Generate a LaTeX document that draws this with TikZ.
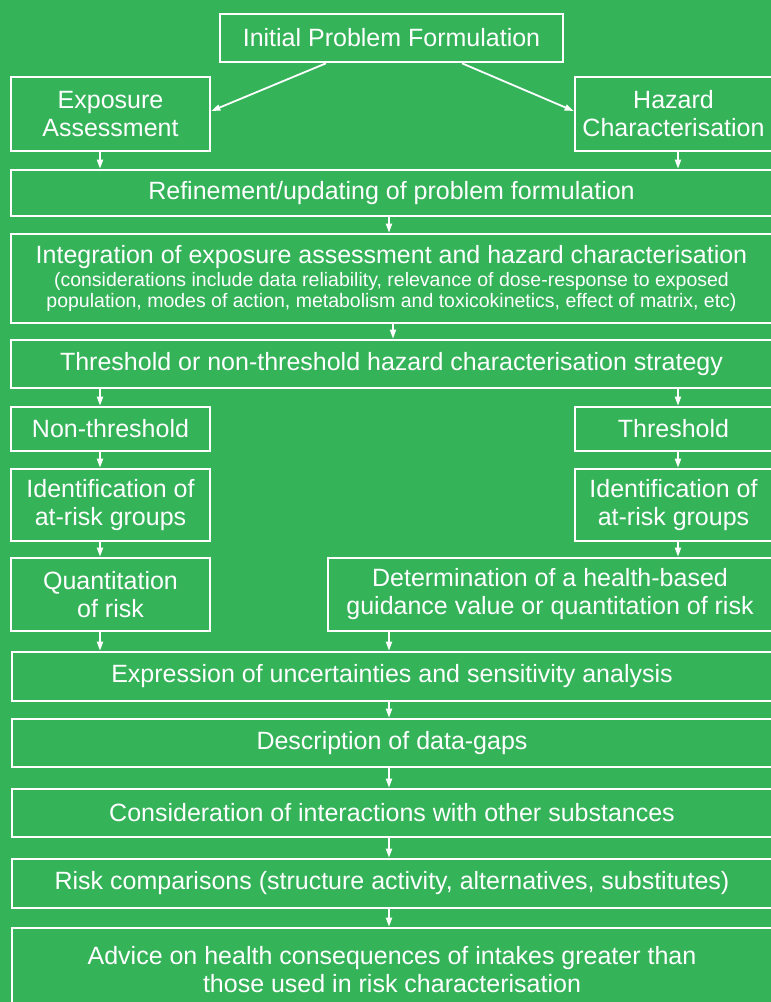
\documentclass[tikz,border=0pt]{standalone}
\usepackage{fontspec}
\setmainfont{Liberation Sans}
\usetikzlibrary{arrows.meta}
\definecolor{leaf}{RGB}{52,179,89}
\begin{document}
\begin{tikzpicture}[x=1pt,y=-1pt,
  box/.style={draw=white, line width=2.6pt, text=white, inner sep=0pt,
    align=center, font=\fontsize{25}{28}\selectfont},
  sub/.style={text=white, inner sep=0pt, anchor=base},
  flow/.style={draw=white, line width=1.8pt, -{Triangle[length=9pt,width=6pt]}}]
% background and frame
\fill[leaf] (0,0) rectangle (771,1002);
\useasboundingbox (0,0) rectangle (771,1002);
\clip (0,0) rectangle (771,1002);

% arrow columns
\coordinate (colL) at (100,0);
\coordinate (colR) at (678,0);
\coordinate (colM) at (389,0);
\coordinate (colN) at (393,0);

% boxes
\node[box, minimum width=343pt, minimum height=48pt] (init) at (391.5,38) {Initial Problem Formulation};
\node[box, minimum width=199pt, minimum height=74pt] (exp) at (110.5,114) {Exposure\\Assessment};
\node[box, minimum width=197pt, minimum height=74pt] (haz) at (673.5,114) {Hazard\\Characterisation};
\node[box, minimum width=761pt, minimum height=46pt] (ref) at (391.5,193) {Refinement/updating of problem formulation};
\node[box, minimum width=761pt, minimum height=89pt] (integ) at (391.5,278.5) {};
\node[sub, font=\fontsize{25}{28}\selectfont] (integA) at (391.5,263) {Integration of exposure assessment and hazard characterisation};
\node[sub, font=\fontsize{19.5}{22}\selectfont] (integB) at (391.5,286) {(considerations include data reliability, relevance of dose-response to exposed};
\node[sub, font=\fontsize{19.5}{22}\selectfont] (integC) at (391.5,307.5) {population, modes of action, metabolism and toxicokinetics, effect of matrix, etc)};
\node[box, minimum width=761pt, minimum height=48pt] (strat) at (391.5,364) {Threshold or non-threshold hazard characterisation strategy};
\node[box, minimum width=199pt, minimum height=44pt] (nonth) at (110.5,429) {Non-threshold};
\node[box, minimum width=197pt, minimum height=44pt] (thr) at (673.5,429) {Threshold};
\node[box, minimum width=199pt, minimum height=72pt] (idl) at (110.5,505) {Identification of\\at-risk groups};
\node[box, minimum width=197pt, minimum height=72pt] (idr) at (673.5,505) {Identification of\\at-risk groups};
\node[box, minimum width=199pt, minimum height=73pt] (quant) at (110.5,594.5) {Quantitation\\of risk};
\node[box, minimum width=444pt, minimum height=73pt] (det) at (550,594.5) {Determination of a health-based\\guidance value or quantitation of risk};
\node[box, minimum width=760pt, minimum height=49pt] (expr) at (392,676.5) {Expression of uncertainties and sensitivity analysis};
\node[box, minimum width=760pt, minimum height=48pt] (desc) at (392,743) {Description of data-gaps};
\node[box, minimum width=760pt, minimum height=48pt] (cons) at (392,813) {Consideration of interactions with other substances};
\node[box, minimum width=760pt, minimum height=49pt] (risk) at (392,883.5) {Risk comparisons (structure activity, alternatives, substitutes)};
\node[box, minimum width=760pt, minimum height=84pt] (adv) at (392,970) {Advice on health consequences of intakes greater than\\those used in risk characterisation};

% connectors
\draw[flow] (init.south -| 326,0) -- (exp.east |- 0,111);
\draw[flow] (init.south -| 462,0) -- (haz.west |- 0,111);
\draw[flow] (exp.south -| colL) -- (ref.north -| colL);
\draw[flow] (haz.south -| colR) -- (ref.north -| colR);
\draw[flow] (ref.south -| colM) -- (integ.north -| colM);
\draw[flow] (integ.south -| colN) -- (strat.north -| colN);
\draw[flow] (strat.south -| colL) -- (nonth.north -| colL);
\draw[flow] (strat.south -| colR) -- (thr.north -| colR);
\draw[flow] (nonth.south -| colL) -- (idl.north -| colL);
\draw[flow] (thr.south -| colR) -- (idr.north -| colR);
\draw[flow] (idl.south -| colL) -- (quant.north -| colL);
\draw[flow] (idr.south -| colR) -- (det.north -| colR);
\draw[flow] (quant.south -| colL) -- (expr.north -| colL);
\draw[flow] (det.south -| colM) -- (expr.north -| colM);
\draw[flow] (expr.south -| colM) -- (desc.north -| colM);
\draw[flow] (desc.south -| colM) -- (cons.north -| colM);
\draw[flow] (cons.south -| colM) -- (risk.north -| colM);
\draw[flow] (risk.south -| colM) -- (adv.north -| colM);
\end{tikzpicture}
\end{document}
